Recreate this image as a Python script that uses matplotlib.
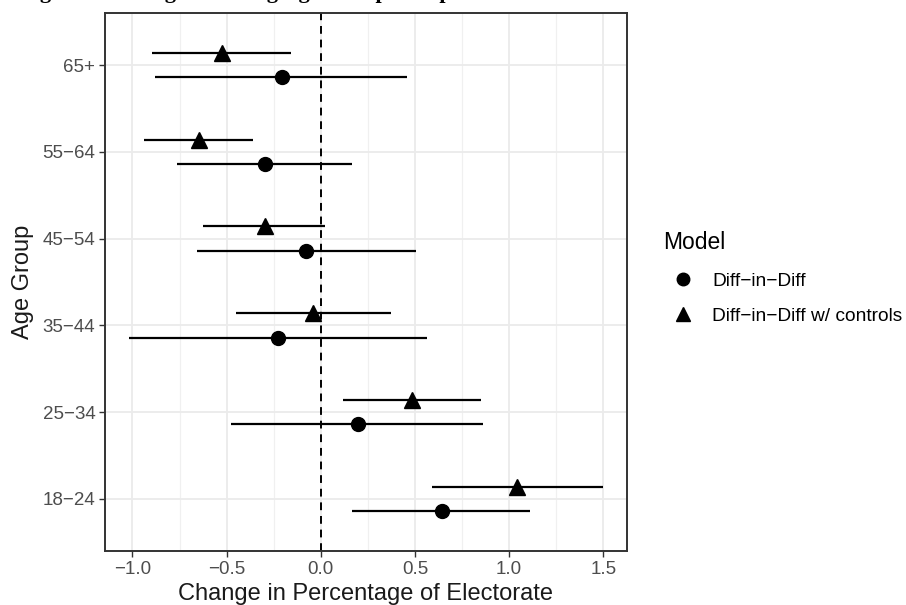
import numpy as np
import matplotlib
matplotlib.use("Agg")
import matplotlib.pyplot as plt
from matplotlib.lines import Line2D
from matplotlib.ticker import MultipleLocator, FixedLocator

plt.rcParams['font.family'] = ['Liberation Sans', 'DejaVu Sans']

# age groups, bottom to top
age_groups = ["18\u221224", "25\u221234", "35\u221244", "45\u221254", "55\u221264", "65+"]

# Diff-in-Diff (circles)
did_est = [0.644, 0.197, -0.229, -0.080, -0.298, -0.207]
did_lo = [0.165, -0.479, -1.020, -0.660, -0.766, -0.878]
did_hi = [1.112, 0.862, 0.563, 0.505, 0.165, 0.457]

# Diff-in-Diff w/ controls (triangles)
ctl_est = [1.043, 0.484, -0.043, -0.298, -0.649, -0.527]
ctl_lo = [0.590, 0.117, -0.452, -0.628, -0.941, -0.894]
ctl_hi = [1.500, 0.851, 0.372, 0.021, -0.362, -0.160]

xticks = [-1.0, -0.5, 0.0, 0.5, 1.0, 1.5]
dodge = 0.14

fig = plt.figure(figsize=(9.06, 6.05), dpi=100)
ax = fig.add_axes([105/906, 54/605, 522/906, 538/605])

pos = np.arange(1, len(age_groups) + 1)

# grid first (theme_bw look)
ax.set_axisbelow(True)
ax.xaxis.set_major_locator(FixedLocator(xticks))
ax.xaxis.set_minor_locator(MultipleLocator(0.25))
ax.grid(which='major', color='#EBEBEB', linewidth=1.3)
ax.grid(which='minor', axis='x', color='#F0F0F0', linewidth=0.9)

ax.axvline(0, color='black', linestyle=(0, (4, 3)), linewidth=1.4, zorder=2)

ax.hlines(pos - dodge, did_lo, did_hi, color='black', linewidth=1.6, zorder=3)
ax.plot(did_est, pos - dodge, 'o', color='black', ms=10, zorder=4)
ax.hlines(pos + dodge, ctl_lo, ctl_hi, color='black', linewidth=1.6, zorder=3)
ax.plot(ctl_est, pos + dodge, '^', color='black', ms=11, zorder=4)

ax.set_xlim(-1.146, 1.626)
ax.set_ylim(0.4, 6.6)
ax.set_yticks(pos)
ax.set_yticklabels(age_groups)
ax.set_xticklabels([f"{v:.1f}".replace('-', '\u2212') for v in xticks])

ax.tick_params(which='major', length=4, width=1, color='#333333',
               labelsize=13.5, labelcolor='#4D4D4D', pad=3)
ax.tick_params(which='minor', length=0)
for s in ax.spines.values():
    s.set_color('#333333')
    s.set_linewidth(1.4)

ax.set_xlabel("Change in Percentage of Electorate", fontsize=17, color='#1A1A1A', labelpad=4)
ax.set_ylabel("Age Group", fontsize=17, color='#1A1A1A', labelpad=6)

handles = [Line2D([], [], marker='o', color='black', linestyle='none', ms=9),
           Line2D([], [], marker='^', color='black', linestyle='none', ms=10)]
leg = fig.legend(handles, ["Diff\u2212in\u2212Diff", "Diff\u2212in\u2212Diff w/ controls"],
                 title="Model", loc='center left', bbox_to_anchor=(646/906, 1 - 278/605),
                 frameon=False, fontsize=13.8, title_fontsize=16.5, alignment='left',
                 labelspacing=0.95, handletextpad=0.45, handlelength=2.1)

# caption above the plot, cut off by the page edge (only descenders show)
fig.text(20/906, 1.0 + 2/605, "Figure 3: Change in Voting Age Group Composition",
         family=['Liberation Serif', 'DejaVu Serif'], fontweight='bold', fontsize=16,
         ha='left', va='baseline')

fig.savefig("out.png", dpi=100)
